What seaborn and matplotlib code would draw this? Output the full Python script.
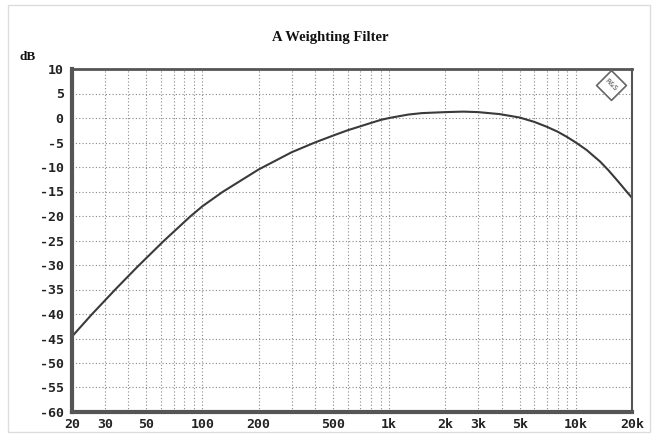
import numpy as np
import pandas as pd
import matplotlib
matplotlib.use("Agg")
import matplotlib.pyplot as plt
import matplotlib.ticker as mticker
from matplotlib.patches import Rectangle
import seaborn as sns

# values
freq_hz = [20, 25.5, 34.5, 45, 62, 86, 100, 128, 160, 200, 300, 400, 500,
           600, 700, 800, 900, 1000, 1265, 1500, 2000, 2500, 3000, 3900,
           5000, 6000, 7000, 8000, 9000, 10000, 11400, 13500, 14900, 16900,
           18700, 20000]
level_db = [-44.6, -40.1, -34.8, -30.3, -25.1, -20.1, -18.0, -15.1, -12.8,
            -10.5, -7.0, -5.0, -3.6, -2.5, -1.7, -1.0, -0.4, 0.0, 0.7, 1.0,
            1.2, 1.3, 1.2, 0.8, 0.1, -0.8, -1.8, -2.8, -3.9, -5.0, -6.5,
            -8.9, -10.6, -13.0, -15.0, -16.3]

x_ticks = [20, 30, 50, 100, 200, 500, 1000, 2000, 3000, 5000, 10000, 20000]
x_labels = ["20", "30", "50", "100", "200", "500", "1k", "2k", "3k", "5k",
            "10k", "20k"]
y_ticks = list(range(-60, 11, 5))

df = pd.DataFrame({"f": freq_hz, "dB": level_db})

sns.set_style("white")
plt.rcParams["font.family"] = ["DejaVu Sans"]

fig = plt.figure(figsize=(6.58, 4.34), dpi=100)
ax = fig.add_axes([72 / 658, 22 / 434, 560 / 658, 343 / 434])

sns.lineplot(data=df, x="f", y="dB", ax=ax, color="#3a3a3a", linewidth=1.5)

ax.set_xscale("log")
ax.set_xlim(20, 20000)
ax.set_ylim(-60, 10)
ax.xaxis.set_major_locator(mticker.FixedLocator(x_ticks))
ax.xaxis.set_major_formatter(mticker.FixedFormatter(x_labels))
ax.xaxis.set_minor_locator(mticker.LogLocator(base=10, subs=range(1, 10), numticks=20))
ax.xaxis.set_minor_formatter(mticker.NullFormatter())
ax.set_yticks(y_ticks)
ax.set_yticklabels([str(v) for v in y_ticks])

mono = dict(family="DejaVu Sans Mono", weight="bold", size=9.5)
for lab in ax.get_xticklabels() + ax.get_yticklabels():
    lab.set_fontproperties(matplotlib.font_manager.FontProperties(**mono))
    lab.set_color("#222222")
ax.tick_params(axis="both", which="both", length=0)
ax.tick_params(axis="y", pad=6)
ax.tick_params(axis="x", pad=4)

ax.grid(True, which="both", axis="x", linestyle=(0, (1, 2)), color="#888888", linewidth=0.8)
ax.grid(True, which="major", axis="y", linestyle=(0, (1, 2)), color="#888888", linewidth=0.8)
ax.set_axisbelow(True)

ax.set_xlabel("")
ax.set_ylabel("")

for side, lw in [("left", 3.0), ("bottom", 3.0), ("top", 2.0), ("right", 1.5)]:
    ax.spines[side].set_visible(True)
    ax.spines[side].set_color("#555555")
    ax.spines[side].set_linewidth(lw)

# R&S logo stand-in
ax.scatter([0.9625], [0.953], transform=ax.transAxes, marker="D", s=230,
           facecolor="white", edgecolor="#666666", linewidth=1.2, zorder=5, clip_on=False)
ax.text(0.9625, 0.953, "R&S", transform=ax.transAxes, ha="center", va="center",
        fontsize=5, color="#444444", rotation=-45, zorder=6)

fig.text(330 / 658, 1 - 37 / 434, "A Weighting Filter", ha="center", va="center",
         family="Liberation Serif", weight="bold", fontsize=10.5, color="#111111")
fig.text(28 / 658, 1 - 57 / 434, "dB", ha="center", va="center",
         family="Liberation Serif", weight="bold", fontsize=9.5, color="#111111")

fig.patches.append(Rectangle((8 / 658, 2 / 434), 642 / 658, 427 / 434,
                             transform=fig.transFigure, fill=False,
                             edgecolor="#dddddd", linewidth=1))

fig.savefig("out.png", dpi=100)
